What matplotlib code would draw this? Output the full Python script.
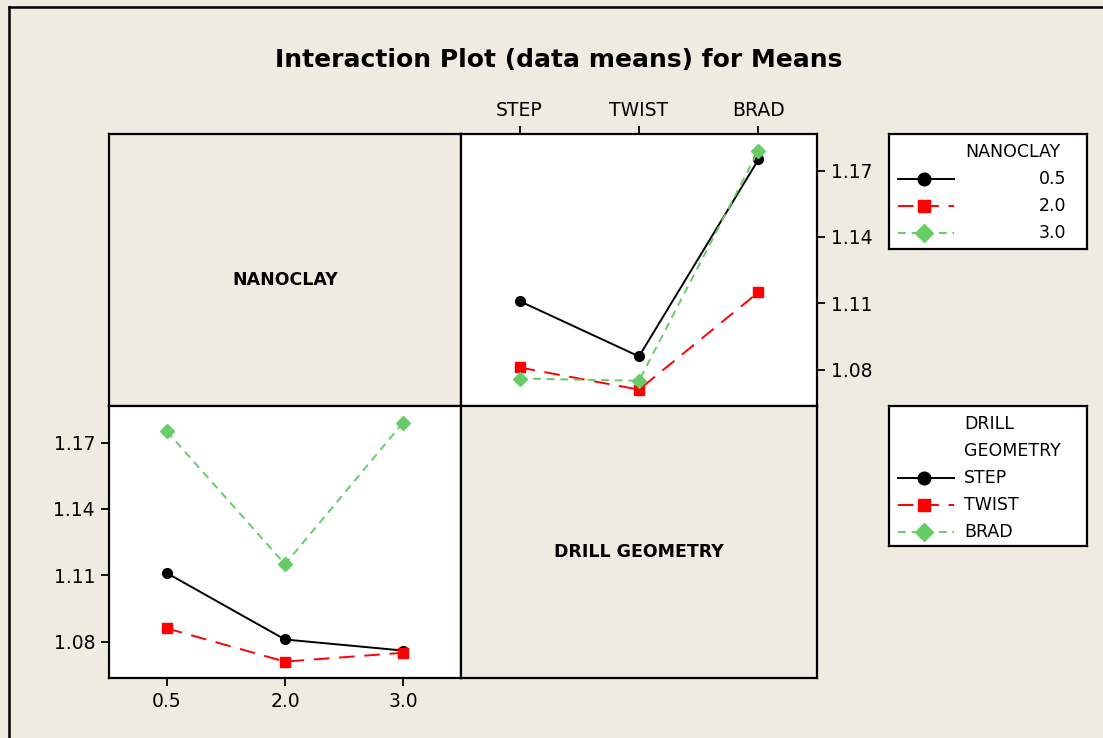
import numpy as np
import matplotlib
matplotlib.use("Agg")
import matplotlib.pyplot as plt
from matplotlib.lines import Line2D

# cell means: rows = nanoclay level, cols = drill geometry
nanoclay = ["0.5", "2.0", "3.0"]
drill = ["STEP", "TWIST", "BRAD"]
means_05 = [1.111, 1.086, 1.175]
means_20 = [1.081, 1.071, 1.115]
means_30 = [1.076, 1.075, 1.179]
yticks = [1.08, 1.11, 1.14, 1.17]

means = np.array([means_05, means_20, means_30])

W, H = 1103, 738
BG = "#EFEBE1"
styles = [
    dict(color="black", marker="o", ms=7, lw=1.4, ls="-"),
    dict(color="#FF0000", marker="s", ms=6.5, lw=1.4, ls=(0, (8, 5))),
    dict(color="#66CC66", marker="D", ms=7, lw=1.4, ls=(0, (4, 3))),
]
plt.rcParams["font.family"] = ["DejaVu Sans"]

fig = plt.figure(figsize=(W / 100, H / 100), dpi=100, facecolor=BG)


def px_axes(x0, y0, x1, y1, **kw):
    return fig.add_axes([x0 / W, 1 - y1 / H, (x1 - x0) / W, (y1 - y0) / H], **kw)


# outer frame (only left and top visible)
fig.add_artist(Line2D([9 / W, 9 / W], [0, 1 - 7 / H], color="black", lw=1.8))
fig.add_artist(Line2D([9 / W, 1], [1 - 7 / H, 1 - 7 / H], color="black", lw=1.8))

fig.text(559 / W, 1 - 60 / H, "Interaction Plot (data means) for Means",
         ha="center", va="center", fontsize=18, fontweight="bold")

xl = 109; xm = 461; xr = 817
yt = 134; ym = 406; yb = 678
ylim = (1.0636, 1.1865)
xlim = (-0.49, 2.49)

ax_tl = px_axes(xl, yt, xm, ym)
ax_tr = px_axes(xm, yt, xr, ym)
ax_bl = px_axes(xl, ym, xm, yb)
ax_br = px_axes(xm, ym, xr, yb)

for ax in (ax_tl, ax_tr, ax_bl, ax_br):
    for s in ax.spines.values():
        s.set_linewidth(1.6)
    ax.set_xlim(*xlim)
    ax.set_ylim(*ylim)

for ax, lab in ((ax_tl, "NANOCLAY"), (ax_br, "DRILL GEOMETRY")):
    ax.set_facecolor(BG)
    ax.set_xticks([])
    ax.set_yticks([])
    ax.text(0.5, 0.463, lab, transform=ax.transAxes, ha="center", va="center",
            fontsize=12.5, fontweight="bold")

x = np.arange(3)

# top-right: x = drill geometry, lines = nanoclay
for i in range(3):
    ax_tr.plot(x, means[i, :], **styles[i])
ax_tr.set_xticks(x)
ax_tr.set_xticklabels(drill)
ax_tr.set_yticks(yticks)
ax_tr.set_yticklabels([f"{v:.2f}" for v in yticks])
ax_tr.xaxis.tick_top()
ax_tr.yaxis.tick_right()
ax_tr.tick_params(direction="out", length=6, width=1.3, labelsize=13.5, pad=4)

# bottom-left: x = nanoclay, lines = drill geometry
for j in range(3):
    ax_bl.plot(x, means[:, j], **styles[j])
ax_bl.set_xticks(x)
ax_bl.set_xticklabels(nanoclay)
ax_bl.set_yticks(yticks)
ax_bl.set_yticklabels([f"{v:.2f}" for v in yticks])
ax_bl.tick_params(direction="out", length=6, width=1.3, labelsize=13.5, pad=4)


def legend_box(x0, y0, x1, y1, title_lines, labels, align):
    lg = px_axes(x0, y0, x1, y1)
    lg.set_xlim(x0, x1)
    lg.set_ylim(y1, y0)
    lg.set_xticks([])
    lg.set_yticks([])
    for s in lg.spines.values():
        s.set_linewidth(1.6)
    ty = y0 + 18
    for t in title_lines:
        if align == "right":
            lg.text(1013, ty, t, ha="center", va="center", fontsize=12.5)
        else:
            lg.text(964, ty, t, ha="left", va="center", fontsize=12.5)
        ty += 27
    for k, lab in enumerate(labels):
        st = styles[k]
        lg.plot([898, 954], [ty, ty], color=st["color"], lw=st["lw"], ls=st["ls"])
        lg.plot([924], [ty], color=st["color"], marker=st["marker"], ms=st["ms"] * 1.3)
        if align == "right":
            lg.text(1066, ty, lab, ha="right", va="center", fontsize=12.5)
        else:
            lg.text(964, ty, lab, ha="left", va="center", fontsize=12.5)
        ty += 27


legend_box(889, 134, 1087, 249, ["NANOCLAY"], nanoclay, "right")
legend_box(889, 406, 1087, 546, ["DRILL", "GEOMETRY"], drill, "left")

fig.savefig("out.png", dpi=100, facecolor=BG)
